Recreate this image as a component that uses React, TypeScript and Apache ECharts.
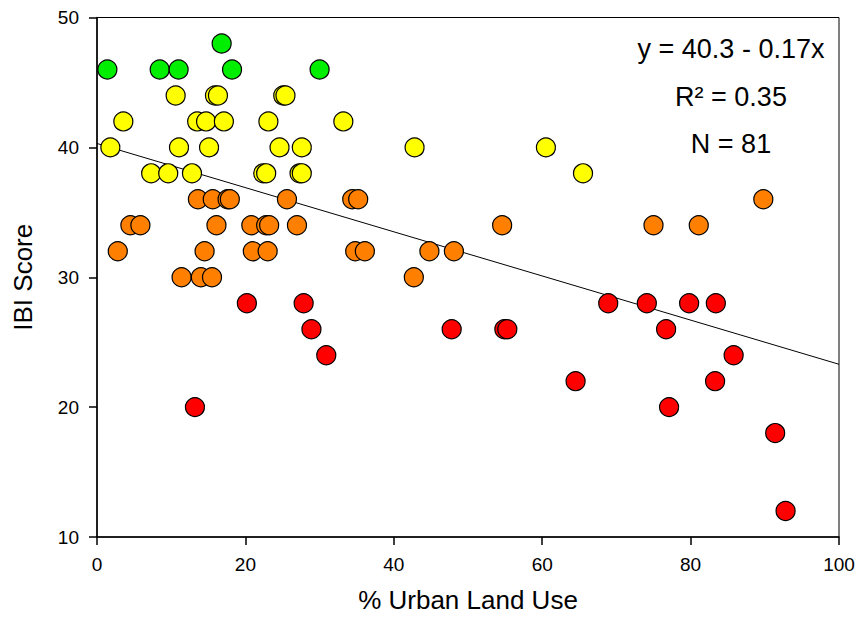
import React, { useEffect, useRef } from "react";
import * as echarts from "echarts";

// % urban land use (x) and IBI score (y) for each site
const urbanPct: number[] = [
  16.8,
  1.4, 8.45, 11.0, 18.2, 30.0,
  10.6, 15.9, 16.3, 25.1, 25.4,
  3.55, 13.5, 14.7, 17.1, 23.1, 33.2,
  1.8, 11.05, 15.1, 24.6, 27.6, 42.8, 60.5,
  7.3, 9.6, 12.8, 22.4, 22.8, 27.3, 27.6, 65.5,
  13.6, 15.6, 17.6, 17.9, 25.6, 34.4, 35.2, 89.8,
  4.5, 5.85, 16.1, 20.8, 22.8, 23.2, 26.95, 54.6, 75.0, 81.1,
  2.8, 14.5, 21.0, 23.0, 34.8, 36.1, 44.8, 48.1,
  11.4, 14.0, 15.5, 42.7,
  20.2, 27.85, 68.9, 74.1, 79.8, 83.4,
  28.9, 47.8, 54.9, 55.3, 76.7,
  30.9, 85.8,
  64.5, 83.3,
  13.2, 77.1,
  91.4,
  92.8,
];
const ibiScore: number[] = [
  48,
  46, 46, 46, 46, 46,
  44, 44, 44, 44, 44,
  42, 42, 42, 42, 42, 42,
  40, 40, 40, 40, 40, 40, 40,
  38, 38, 38, 38, 38, 38, 38, 38,
  36, 36, 36, 36, 36, 36, 36, 36,
  34, 34, 34, 34, 34, 34, 34, 34, 34, 34,
  32, 32, 32, 32, 32, 32, 32, 32,
  30, 30, 30, 30,
  28, 28, 28, 28, 28, 28,
  26, 26, 26, 26, 26,
  24, 24,
  22, 22,
  20, 20,
  18,
  12,
];

// Regression: y = 40.3 - 0.17x
const regIntercept = 40.3;
const regSlope = -0.17;
const regX: number[] = [0, 100];

const annotations: string[] = ["y = 40.3 - 0.17x", "R² = 0.35", "N = 81"];

const xTicks = { min: 0, max: 100, interval: 20 };
const yTicks = { min: 10, max: 50, interval: 10 };

// score class colours
function scoreColor(s: number): string {
  if (s >= 46) return "#00ee00";
  if (s >= 38) return "#ffff00";
  if (s >= 30) return "#ff8000";
  return "#ff0000";
}

const FONT = "'Liberation Sans', Arial, Helvetica, sans-serif";

export default function App() {
  const ref = useRef<HTMLDivElement>(null);
  useEffect(() => {
    document.body.style.margin = "0";
    if (!ref.current) return;
    const chart = echarts.init(ref.current, undefined, { renderer: "svg" });
    const points = urbanPct.map((x, i) => ({
      value: [x, ibiScore[i]],
      itemStyle: { color: scoreColor(ibiScore[i]) },
    }));
    const regData = regX.map((x) => [x, regIntercept + regSlope * x]);
    chart.setOption({
      animation: false,
      backgroundColor: "#ffffff",
      textStyle: { fontFamily: FONT },
      grid: {
        left: 97,
        right: 23,
        top: 17.5,
        bottom: 86,
        show: true,
        borderColor: "#000",
        borderWidth: 1,
        backgroundColor: "transparent",
      },
      xAxis: {
        type: "value",
        min: xTicks.min,
        max: xTicks.max,
        interval: xTicks.interval,
        name: "% Urban Land Use",
        nameLocation: "middle",
        nameGap: 50,
        nameTextStyle: { fontSize: 26, color: "#000", fontFamily: FONT },
        axisLine: { show: true, lineStyle: { color: "#000", width: 1.5 } },
        axisTick: { show: true, length: 8, inside: false, lineStyle: { color: "#000", width: 1.5 } },
        axisLabel: { fontSize: 19, color: "#000", margin: 18, fontFamily: FONT },
        splitLine: { show: false },
      },
      yAxis: {
        type: "value",
        min: yTicks.min,
        max: yTicks.max,
        interval: yTicks.interval,
        name: "IBI Score",
        nameLocation: "middle",
        nameGap: 61,
        nameTextStyle: { fontSize: 26, color: "#000", fontFamily: FONT },
        axisLine: { show: true, lineStyle: { color: "#000", width: 1.5 } },
        axisTick: { show: true, length: 8, inside: false, lineStyle: { color: "#000", width: 1.5 } },
        axisLabel: { fontSize: 19, color: "#000", margin: 18, fontFamily: FONT },
        splitLine: { show: false },
      },
      series: [
        {
          type: "line",
          data: regData,
          symbol: "none",
          silent: true,
          z: 1,
          lineStyle: { color: "#000", width: 1 },
        },
        {
          type: "scatter",
          data: points,
          symbol: "circle",
          symbolSize: 19,
          z: 3,
          itemStyle: { borderColor: "#000", borderWidth: 1.2, opacity: 1 },
        },
      ],
      graphic: annotations.map((t, i) => ({
        type: "text",
        x: 731,
        y: 49 + i * 47.5,
        z: 10,
        style: {
          text: t,
          fontSize: 27,
          fontFamily: FONT,
          fill: "#000",
          textAlign: "center",
          textVerticalAlign: "middle",
        },
      })),
    });
    return () => chart.dispose();
  }, []);
  return <div ref={ref} style={{ width: 862, height: 623 }} />;
}
